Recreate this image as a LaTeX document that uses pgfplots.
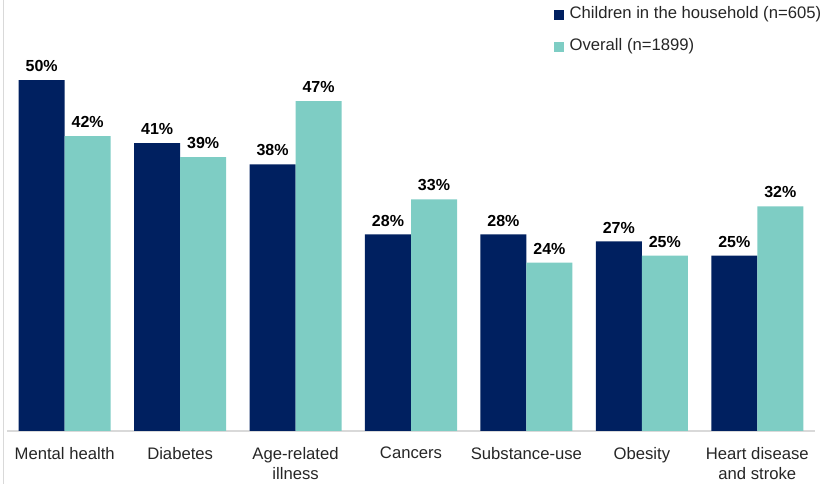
\documentclass[border=0pt]{standalone}
\usepackage{pgfplots}
\pgfplotsset{compat=1.18}
\usepackage{fontspec}
\setmainfont{Liberation Sans}
\definecolor{navy}{HTML}{002060}
\definecolor{teal2}{HTML}{7ECDC4}
\definecolor{gridc}{HTML}{D9D9D9}
\definecolor{txt}{HTML}{262626}
\begin{document}
\begin{tikzpicture}
\begin{axis}[
  at={(0pt,0pt)}, anchor=south west,
  scale only axis, width=606pt, height=323.25pt,
  ymin=0, ymax=61.4, xmin=-0.5, xmax=6.5,
  ybar=0pt, bar width=34.5pt,
  axis x line=bottom, axis y line=none,
  x axis line style={gridc, line width=0.9pt, -},
  ytick=\empty,
  xtick=data, major tick length=0pt,
  /pgf/number format/assume math mode=true,
  xticklabels={Mental health, Diabetes, {Age-related\\illness}, Cancers, Substance-use, Obesity, {Heart disease\\and stroke}},
  xticklabel style={align=center, font=\fontsize{12.5}{15}\selectfont, text=txt, inner sep=0pt, yshift=-12pt},
  nodes near coords={\pgfmathprintnumber{\pgfplotspointmeta}\%},
  nodes near coords style={font=\bfseries\fontsize{12}{14}\selectfont, text=black, inner sep=0pt, yshift=6pt, anchor=south},
  legend image code/.code={\fill[#1] (0pt,-3.75pt) rectangle (7.5pt,3.75pt);},
  legend style={at={(0.677,1)}, anchor=north west, yshift=-5pt, draw=none, fill=none, inner sep=0pt,
    font=\fontsize{12.5}{15}\selectfont, text=txt, row sep=12pt,
    nodes={text height=9pt, text depth=3pt, inner sep=0pt}},
  legend cell align=left,
  /tikz/every odd column/.append style={column sep=4pt},
]
\addplot[fill=navy, draw=none] coordinates {(0,50) (1,41) (2,38) (3,28) (4,28) (5,27) (6,25)};
\addplot[fill=teal2, draw=none] coordinates {(0,42) (1,39) (2,47) (3,33) (4,24) (5,25) (6,32)};
\legend{Children in the household (n=605), Overall (n=1899)}
\end{axis}
\draw[gridc, line width=0.9pt] (-2.625pt,-39.75pt) -- (-2.625pt,323.25pt);
\pgfresetboundingbox
\path (-5.25pt,-39.75pt) rectangle (619.5pt,323.25pt);
\end{tikzpicture}
\end{document}
